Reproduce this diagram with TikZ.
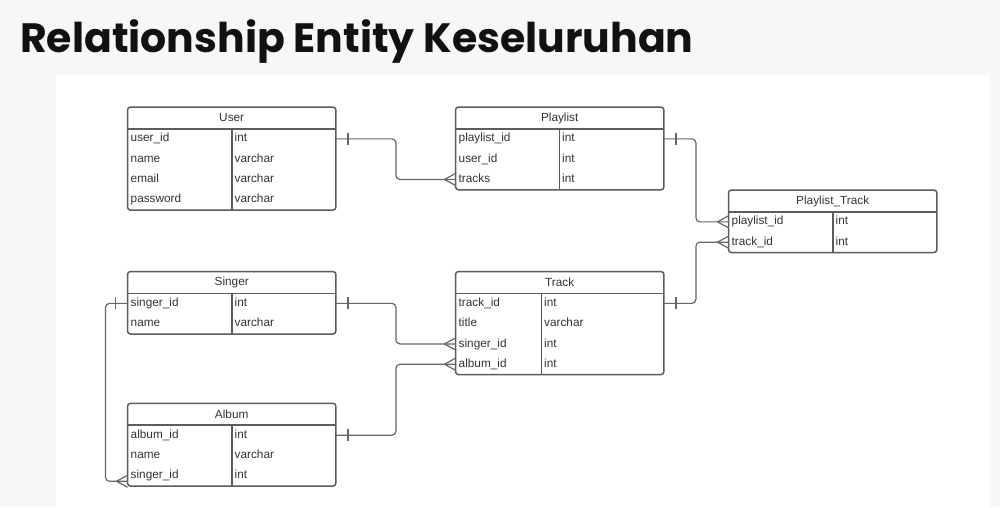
\documentclass[tikz,border=0pt]{standalone}
\usepackage{fontspec}
\setmainfont{Liberation Sans}
\newfontfamily\titlefont{Poppins}
\usetikzlibrary{decorations.markings}
\definecolor{bggray}{HTML}{F7F7F7}
\definecolor{titlecol}{HTML}{111111}
\definecolor{boxline}{HTML}{5C5C5C}
\definecolor{relline}{HTML}{666666}
\definecolor{txt}{HTML}{333333}

\tikzset{
  head/.style={minimum width=208pt, minimum height=21.5pt, inner sep=0pt, anchor=north west,
    text=txt, font=\fontsize{11.8}{14}\selectfont},
  field/.style={minimum width=208pt, minimum height=20.3pt, inner xsep=3pt, inner ysep=0pt,
    text width=202pt, align=left, anchor=north west, text=txt, font=\fontsize{11.8}{14}\selectfont,
    text height=8.6pt, text depth=2.4pt},
  ftype/.style={anchor=west, inner xsep=2.5pt, inner ysep=0pt, text=txt,
    font=\fontsize{11.8}{14}\selectfont, text height=8.6pt, text depth=2.4pt},
  tableframe/.style={draw=boxline, line width=1.5pt, rounded corners=3pt},
  hline/.style={draw=boxline, line width=1.5pt},
  rel/.style={draw=relline, line width=1.2pt, rounded corners=4pt},
  onebar/.style={postaction={decorate, decoration={markings, mark=at position 12pt with
    {\draw[relline, line width=1.2pt] (0pt,-6pt) -- (0pt,6pt);}}}},
  crowfoot/.style={postaction={decorate, decoration={markings, mark=at position 1 with
    {\draw[relline, line width=1.2pt] (-11pt,0pt) -- (0pt,6pt) (-11pt,0pt) -- (0pt,-6pt);}}}},
}

\begin{document}
\begin{tikzpicture}[x=1pt, y=-1pt]
      \useasboundingbox (0,0) rectangle (1000,507);
      \fill[bggray] (0,0) rectangle (1000,507);
      \fill[white] (56,75) rectangle (990,507);
      \node[anchor=base west, inner sep=0pt, text=titlecol,
        font=\titlefont\bfseries\fontsize{41}{48}\selectfont] (title) at (20,52) {Relationship Entity Keseluruhan};

      % User
      \node[head] (user) at (127.5,107) {User};
      \foreach \f/\t [count=\i] in {user\_id/int, name/varchar, email/varchar, password/varchar} {
        \node[field] (user\i) at (127.5, 128.5+20.3*\i-20.3) {\f};
        \node[ftype] at ([xshift=104.5pt]user\i.west) {\t};
      }
      \draw[tableframe] (user.north west) rectangle (user4.south east);
      \draw[hline] (user.south west) -- (user.south east);
      \draw[hline] ([xshift=104.5pt]user.south west) -- ([xshift=104.5pt]user4.south west);

      % Playlist
      \node[head] (playlist) at (455.5,107) {Playlist};
      \foreach \f/\t [count=\i] in {playlist\_id/int, user\_id/int, tracks/int} {
        \node[field] (playlist\i) at (455.5, 128.5+20.3*\i-20.3) {\f};
        \node[ftype] at ([xshift=104pt]playlist\i.west) {\t};
      }
      \draw[tableframe] (playlist.north west) rectangle (playlist3.south east);
      \draw[hline] (playlist.south west) -- (playlist.south east);
      \draw[hline] ([xshift=104pt]playlist.south west) -- ([xshift=104pt]playlist3.south west);

      % Playlist_Track
      \node[head] (plt) at (728.5,190) {Playlist\_Track};
      \foreach \f/\t [count=\i] in {playlist\_id/int, track\_id/int} {
        \node[field] (plt\i) at (728.5, 211.5+20.3*\i-20.3) {\f};
        \node[ftype] at ([xshift=104.5pt]plt\i.west) {\t};
      }
      \draw[tableframe] (plt.north west) rectangle (plt2.south east);
      \draw[hline] (plt.south west) -- (plt.south east);
      \draw[hline] ([xshift=104.5pt]plt.south west) -- ([xshift=104.5pt]plt2.south west);

      % Singer
      \node[head] (singer) at (127.5,271.5) {Singer};
      \foreach \f/\t [count=\i] in {singer\_id/int, name/varchar} {
        \node[field] (singer\i) at (127.5, 293+20.3*\i-20.3) {\f};
        \node[ftype] at ([xshift=104.5pt]singer\i.west) {\t};
      }
      \draw[tableframe] (singer.north west) rectangle (singer2.south east);
      \draw[hline] (singer.south west) -- (singer.south east);
      \draw[hline] ([xshift=104.5pt]singer.south west) -- ([xshift=104.5pt]singer2.south west);

      % Track
      \node[head] (track) at (455.5,271.5) {Track};
      \foreach \f/\t [count=\i] in {track\_id/int, title/varchar, singer\_id/int, album\_id/int} {
        \node[field] (track\i) at (455.5, 293+20.3*\i-20.3) {\f};
        \node[ftype] at ([xshift=86pt]track\i.west) {\t};
      }
      \draw[tableframe] (track.north west) rectangle (track4.south east);
      \draw[hline] (track.south west) -- (track.south east);
      \draw[hline] ([xshift=86pt]track.south west) -- ([xshift=86pt]track4.south west);

      % Album
      \node[head] (album) at (127.5,403.3) {Album};
      \foreach \f/\t [count=\i] in {album\_id/int, name/varchar, singer\_id/int} {
        \node[field] (album\i) at (127.5, 424.8+20.3*\i-20.3) {\f};
        \node[ftype] at ([xshift=104.5pt]album\i.west) {\t};
      }
      \draw[tableframe] (album.north west) rectangle (album3.south east);
      \draw[hline] (album.south west) -- (album.south east);
      \draw[hline] ([xshift=104.5pt]album.south west) -- ([xshift=104.5pt]album3.south west);
      \coordinate (albumfk) at ([yshift=-5.5pt]album3.west);

      % relations
      \draw[rel, onebar, crowfoot] (user1.east) -- ++(60,0) |- (playlist3.west);
      \draw[rel, onebar, crowfoot] (playlist1.east) -- ++(32,0) |- (plt1.west);
      \draw[rel, onebar, crowfoot] (track1.east) -- ++(32,0) |- (plt2.west);
      \draw[rel, onebar, crowfoot] (singer1.east) -- ++(60,0) |- (track3.west);
      \draw[rel, onebar, crowfoot] (album1.east) -- ++(60,0) |- (track4.west);
      \draw[rel, onebar, crowfoot] (singer1.west) -- ++(-22,0) |- (albumfk);
    \end{tikzpicture}
\end{document}
